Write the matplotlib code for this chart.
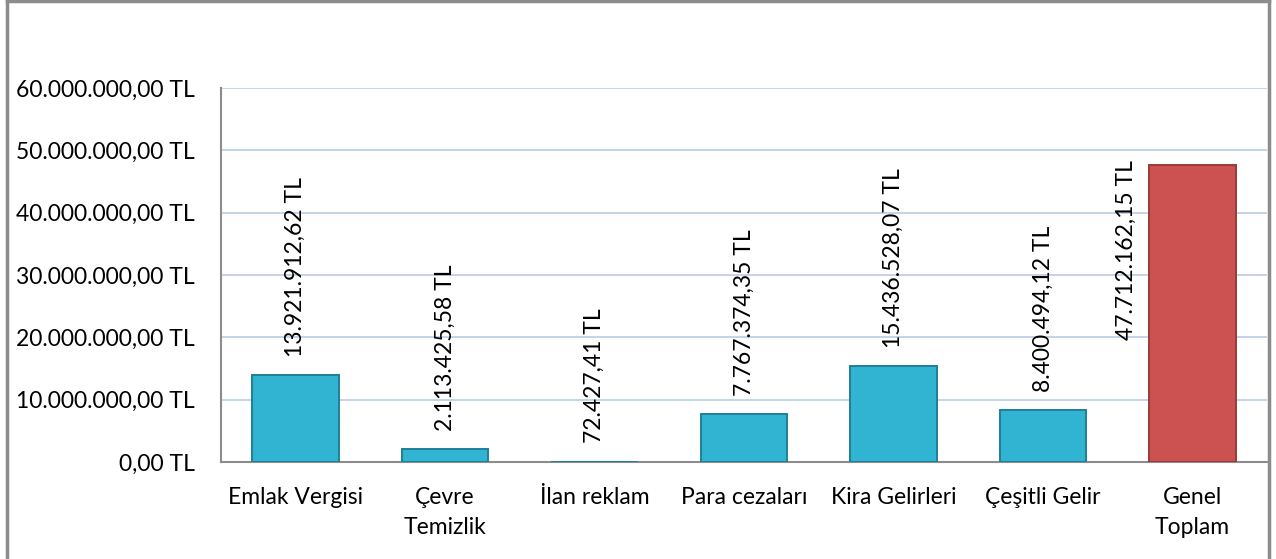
import matplotlib
matplotlib.use("Agg")
import matplotlib.pyplot as plt
from matplotlib.lines import Line2D

plt.rcParams["font.family"] = ["Lato", "DejaVu Sans"]

CATEGORIES = ["Emlak Vergisi", "Çevre\nTemizlik", "İlan reklam", "Para cezaları",
              "Kira Gelirleri", "Çeşitli Gelir", "Genel\nToplam"]
VALUES = [13921912.62, 2113425.58, 72427.41, 7767374.35, 15436528.07, 8400494.12, 47712162.15]
VALUE_LABELS = ["13.921.912,62 TL", "2.113.425,58 TL", "72.427,41 TL", "7.767.374,35 TL",
                "15.436.528,07 TL", "8.400.494,12 TL", "47.712.162,15 TL"]
Y_TICKS = [0, 10e6, 20e6, 30e6, 40e6, 50e6, 60e6]
Y_TICK_LABELS = ["0,00 TL", "10.000.000,00 TL", "20.000.000,00 TL", "30.000.000,00 TL",
                 "40.000.000,00 TL", "50.000.000,00 TL", "60.000.000,00 TL"]

BLUE = "#31B3D2"
BLUE_EDGE = "#1E7F99"
RED = "#CB5250"
RED_EDGE = "#9B3A38"
FS = 16.5


def main():
    fig = plt.figure(figsize=(12.76, 5.59), dpi=100)
    ax = fig.add_axes([221 / 1276, 1 - 462 / 559, (1267 - 221) / 1276, (462 - 88) / 559])

    x = list(range(len(CATEGORIES)))
    colors = [BLUE] * (len(VALUES) - 1) + [RED]
    edges = [BLUE_EDGE] * (len(VALUES) - 1) + [RED_EDGE]
    width = 0.58
    ax.bar(x, VALUES, width=width, color=colors, edgecolor=edges, linewidth=1.4, zorder=3)

    ax.set_xlim(-0.5, len(CATEGORIES) - 0.5)
    ax.set_ylim(0, 60e6)
    ax.set_yticks(Y_TICKS)
    ax.set_yticklabels(Y_TICK_LABELS, fontsize=FS)
    ax.set_xticks(x)
    ax.set_xticklabels(CATEGORIES, fontsize=FS, linespacing=1.5)
    ax.tick_params(axis="both", length=0)
    ax.tick_params(axis="y", pad=19)
    ax.tick_params(axis="x", pad=18)
    ax.grid(axis="y", color="#B9CDE5", linewidth=1.2, zorder=0)
    for side in ("top", "right"):
        ax.spines[side].set_visible(False)
    for side in ("left", "bottom"):
        ax.spines[side].set_color("#8C8C8C")
        ax.spines[side].set_linewidth(1.5)

    # value labels above bars; the last one sits to the left of its bar
    for i, (v, lab) in enumerate(zip(VALUES, VALUE_LABELS)):
        if i == len(VALUES) - 1:
            ax.annotate(lab, (i - width / 2, v), xytext=(-9, 3), textcoords="offset points",
                        rotation=90, ha="right", va="top", fontsize=FS)
        else:
            ax.annotate(lab, (i, v), xytext=(0, 13), textcoords="offset points",
                        rotation=90, ha="center", va="bottom", fontsize=FS)

    # outer chart frame (no bottom edge)
    frame = dict(color="#8C8C8C", linewidth=2.5, transform=fig.transFigure)
    fig.add_artist(Line2D([6.5 / 1276, 6.5 / 1276], [0, 1], **frame))
    fig.add_artist(Line2D([6.5 / 1276, 1268.5 / 1276], [1 - 0.5 / 559, 1 - 0.5 / 559], **frame))
    fig.add_artist(Line2D([1268.5 / 1276, 1268.5 / 1276], [0, 1], **frame))

    fig.savefig("out.png", dpi=100)
    plt.close(fig)


if __name__ == "__main__":
    main()
